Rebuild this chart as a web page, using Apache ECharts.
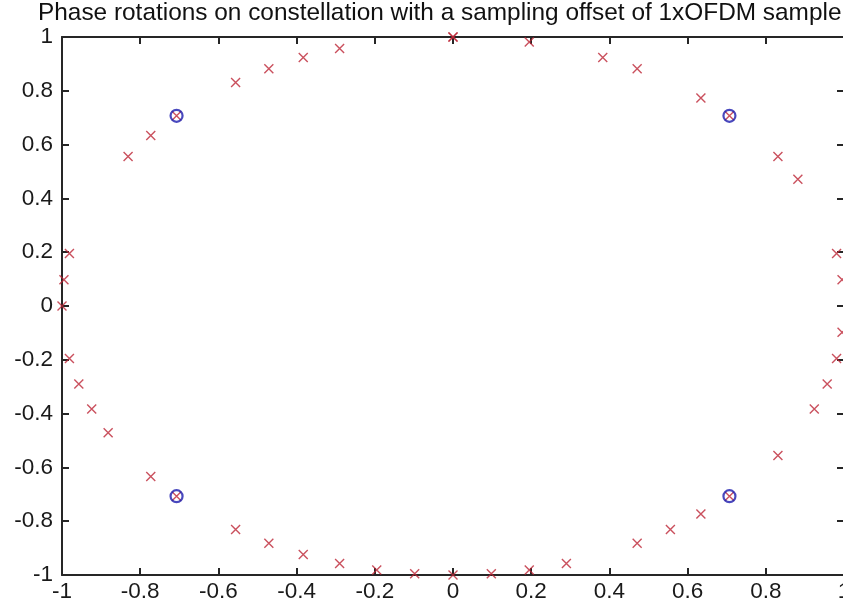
<!DOCTYPE html>
<html>
<head>
<meta charset="utf-8">
<title>Phase rotations</title>
<script src="https://cdn.jsdelivr.net/npm/echarts@6/dist/echarts.min.js"></script>
<style>
  html, body { margin: 0; padding: 0; background: #fff; }
  #chart { width: 843px; height: 604px; }
</style>
</head>
<body>
<div id="chart"></div>
<script>
// Rotated symbols (in-phase / quadrature), sampling offset of one OFDM sample
const rotatedI = [
  -0.290, -0.383, -0.471, -0.556, -0.707, -0.773, -0.831, -0.981, -0.995, -1.000,
  -0.981, -0.957, -0.924, -0.882, -0.773, -0.707, -0.556, -0.471, -0.383, -0.290, -0.195, -0.098, 0.000,
  0.098, 0.195, 0.290, 0.471, 0.556, 0.634, 0.707, 0.831, 0.924, 0.957, 0.981, 0.995,
  0.995, 0.981, 0.882, 0.831, 0.707, 0.634, 0.471, 0.383, 0.195, 0.000, 0.000
];
const rotatedQ = [
  0.957, 0.924, 0.882, 0.831, 0.707, 0.634, 0.556, 0.195, 0.098, 0.000,
  -0.195, -0.290, -0.383, -0.471, -0.634, -0.707, -0.831, -0.882, -0.924, -0.957, -0.981, -0.995, -1.000,
  -0.995, -0.981, -0.957, -0.882, -0.831, -0.773, -0.707, -0.556, -0.383, -0.290, -0.195, -0.098,
  0.098, 0.195, 0.471, 0.556, 0.707, 0.773, 0.882, 0.924, 0.981, 1.000, 1.000
];

// Reference QPSK constellation points
const constI = [0.707, -0.707, -0.707, 0.707];
const constQ = [0.707, 0.707, -0.707, -0.707];

const axisMin = -1;
const axisMax = 1;
const tickStep = 0.2;

const titleText = 'Phase rotations on constellation with a sampling offset of 1xOFDM sample';

const zip = (a, b) => a.map((v, i) => [v, b[i]]);
const fmt = v => String(Math.round(v * 10) / 10);

const FONT = '"Liberation Sans", Arial, Helvetica, sans-serif';
const lineColor = '#262626';

function axisCommon(showLabel, margin, position) {
  return {
    type: 'value',
    position: position,
    min: axisMin,
    max: axisMax,
    interval: tickStep,
    splitLine: { show: false },
    axisLine: { show: true, onZero: false, lineStyle: { color: lineColor, width: 2 } },
    axisTick: { show: true, inside: true, length: 7, lineStyle: { color: lineColor, width: 2 } },
    axisLabel: {
      show: showLabel,
      margin: margin,
      color: '#1a1a1a',
      fontFamily: FONT,
      fontSize: 22.5,
      formatter: fmt,
      showMinLabel: true,
      showMaxLabel: true,
      hideOverlap: false
    }
  };
}

const chart = echarts.init(document.getElementById('chart'), null, { renderer: 'canvas' });

chart.setOption({
  animation: false,
  backgroundColor: '#ffffff',
  title: {
    text: titleText,
    left: 38,
    top: 1,
    padding: 0,
    textStyle: { fontFamily: FONT, fontSize: 24.4, fontWeight: 'normal', color: '#111' }
  },
  grid: {
    left: 62, top: 37, width: 782, height: 538,
    containLabel: false,
    outerBoundsMode: 'none'
  },
  xAxis: [
    axisCommon(true, 5, 'bottom'),
    axisCommon(false, 8, 'top')
  ],
  yAxis: [
    axisCommon(true, 9, 'left'),
    axisCommon(false, 8, 'right')
  ],
  series: [
    {
      name: 'rotated',
      type: 'scatter',
      xAxisIndex: 0,
      yAxisIndex: 0,
      data: zip(rotatedI, rotatedQ),
      symbol: 'path://M0 0L10 10M10 0L0 10',
      symbolSize: 9,
      itemStyle: { color: 'rgba(0,0,0,0)', borderColor: '#bd2636', borderWidth: 1.4 },
      z: 3
    },
    {
      name: 'constellation',
      type: 'scatter',
      xAxisIndex: 0,
      yAxisIndex: 0,
      data: zip(constI, constQ),
      symbol: 'circle',
      symbolSize: 12,
      itemStyle: { color: 'rgba(0,0,0,0)', borderColor: '#1c1cae', borderWidth: 2.2 },
      z: 4
    }
  ]
});
</script>
</body>
</html>
